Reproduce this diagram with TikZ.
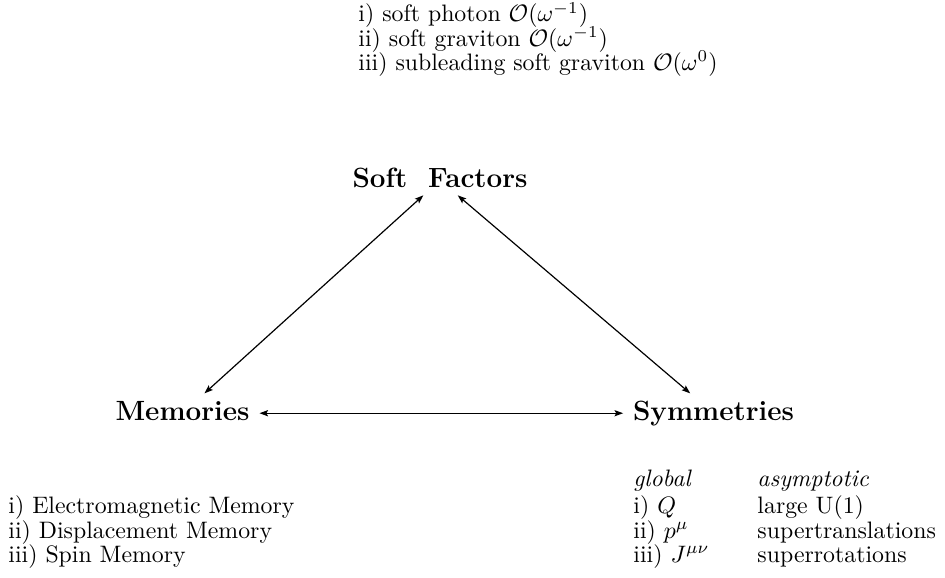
\documentclass[tikz,border=0pt]{standalone}
\usetikzlibrary{arrows.meta}
\begin{document}
\begin{tikzpicture}[x=0.42017pt,y=-0.42017pt,
  txt/.style={anchor=base west,inner sep=0pt},
  big/.style={font=\fontsize{11.7}{14}\selectfont\bfseries,text height=8pt,text depth=2.3pt,inner xsep=4pt,anchor=base},
  conn/.style={line width=0.5pt,{Stealth[length=3.6pt,width=2.6pt,inset=0.7pt]}-{Stealth[length=3.6pt,width=2.6pt,inset=0.7pt]}}]
\useasboundingbox (0,0) rectangle (945,577);
% top list
\node[txt] (t1) at (358,22) {i) soft photon $\mathcal{O}(\omega^{-1})$};
\node[txt] (t2) at (358,46.2) {ii) soft graviton $\mathcal{O}(\omega^{-1})$};
\node[txt] (t3) at (358,70.4) {iii) subleading soft graviton $\mathcal{O}(\omega^{0})$};
% main nodes
\node[big,inner ysep=1pt] (sf) at (440,187) {Soft~~Factors};
\node[big,inner ysep=3pt] (mem) at (182.5,420) {Memories};
\node[big,inner ysep=3pt] (sym) at (713.5,420) {Symmetries};
% connectors
\draw[conn] (sf) -- (mem);
\draw[conn] (sf) -- (sym);
\draw[conn] (mem) -- (sym);
% memories list
\node[txt] (m1) at (8,513.5) {i) Electromagnetic Memory};
\node[txt] (m2) at (8,538) {ii) Displacement Memory};
\node[txt] (m3) at (8,562) {iii) Spin Memory};
% symmetries table
\node[txt] (g0) at (633,486) {\textit{global}};
\node[txt] (a0) at (757,486) {\textit{asymptotic}};
\node[txt] (g1) at (633,513.5) {i) $Q$};
\node[txt] (a1) at (757,513.5) {large U(1)};
\node[txt] (g2) at (633,538) {ii) $p^{\mu}$};
\node[txt] (a2) at (757,538) {supertranslations};
\node[txt] (g3) at (633,562) {iii) $J^{\mu\nu}$};
\node[txt] (a3) at (757,562) {superrotations};
\end{tikzpicture}
\end{document}
